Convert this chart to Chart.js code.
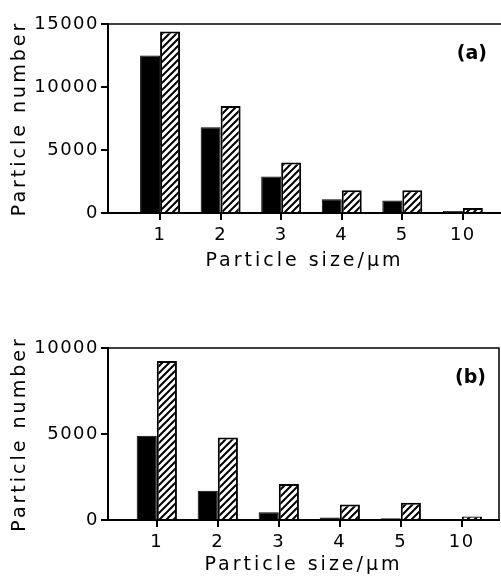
<!DOCTYPE html>
<html>
<head>
<meta charset="utf-8">
<script src="https://cdn.jsdelivr.net/npm/chart.js@4.4.1/dist/chart.umd.min.js"></script>
<style>
  html, body { margin: 0; padding: 0; background: #fff; }
  .panel { position: relative; width: 501px; }
</style>
</head>
<body>
<div class="panel" style="height:280px"><canvas id="chartA"></canvas></div>
<div class="panel" style="height:298px"><canvas id="chartB"></canvas></div>
<script>
// particle size classes (µm)
const sizeLabels = ["1", "2", "3", "4", "5", "10"];

// panel (a)
const solidA = [12500, 6800, 2900, 1100, 1000, 150];
const hatchedA = [14400, 8500, 4000, 1800, 1800, 400];
const yTicksA = [0, 5000, 10000, 15000];

// panel (b)
const solidB = [4900, 1700, 450, 150, 100, 50];
const hatchedB = [9250, 4800, 2100, 900, 1000, 200];
const yTicksB = [0, 5000, 10000];

const FONT = "'DejaVu Sans', sans-serif";

function makeHatch() {
	const size = 7;
	const c = document.createElement("canvas");
	c.width = size;
	c.height = size;
	const g = c.getContext("2d");
	g.fillStyle = "#fff";
	g.fillRect(0, 0, size, size);
	g.strokeStyle = "#000";
	g.lineWidth = 2;
	g.beginPath();
	g.moveTo(0, size);
	g.lineTo(size, 0);
	g.moveTo(-1, 1);
	g.lineTo(1, -1);
	g.moveTo(size - 1, size + 1);
	g.lineTo(size + 1, size - 1);
	g.stroke();
	return g.createPattern(c, "repeat");
}

const hatch = makeHatch();

// wide letter spacing: titles are drawn in the grid layer (z -1),
// tick labels after the datasets (z 1)
const spacingPlugin = {
	id: "spacing",
	beforeDraw(chart) {
		chart.ctx.letterSpacing = "3px";
	},
	beforeDatasetsDraw(chart) {
		chart.ctx.letterSpacing = "1.5px";
	},
	afterDraw(chart) {
		chart.ctx.letterSpacing = "0px";
	},
};

// top border, optional right border and the panel letter
const framePlugin = {
	id: "frame",
	afterDraw(chart, args, opts) {
		const { ctx, chartArea: a } = chart;
		ctx.save();
		ctx.strokeStyle = "#000";
		ctx.lineWidth = 1.5;
		ctx.beginPath();
		ctx.moveTo(a.left, a.top);
		ctx.lineTo(a.right, a.top);
		if (opts.right) ctx.lineTo(a.right, a.bottom);
		ctx.stroke();
		ctx.letterSpacing = "0px";
		ctx.font = "bold 19px " + FONT;
		ctx.fillStyle = "#000";
		ctx.textAlign = "right";
		ctx.textBaseline = "middle";
		ctx.fillText(opts.label, a.right - opts.labelDx, a.top + 30);
		ctx.restore();
	},
};

function drawPanel(id, solid, hatched, yTicks, cfg) {
	const ctx = document.getElementById(id);

	return new Chart(ctx, {
		type: "bar",
		data: {
			datasets: [
				{
					data: solid.map((v, i) => ({ x: i + 1, y: v })),
					backgroundColor: "#000",
					borderColor: "#000",
					borderWidth: 1,
					barPercentage: 1,
					categoryPercentage: 0.66,
				},
				{
					data: hatched.map((v, i) => ({ x: i + 1, y: v })),
					backgroundColor: hatch,
					borderColor: "#000",
					borderWidth: 2,
					barPercentage: 1,
					categoryPercentage: 0.66,
				},
			],
		},
		options: {
			responsive: true,
			maintainAspectRatio: false,
			animation: false,
			devicePixelRatio: 1,
			layout: {
				padding: { top: cfg.top, right: cfg.right, left: 0, bottom: 0 },
			},
			plugins: {
				legend: { display: false },
				tooltip: { enabled: false },
				frame: { label: cfg.label, right: cfg.drawRight, labelDx: cfg.labelDx },
			},
			scales: {
				x: {
					type: "linear",
					min: cfg.xMin,
					max: cfg.xMax,
					offset: false,
					afterBuildTicks: (scale) => {
						scale.ticks = sizeLabels.map((_, i) => ({ value: i + 1 }));
					},
					afterFit: (scale) => {
						scale.height = cfg.xHeight;
					},
					ticks: {
						z: 1,
						color: "#000",
						font: { family: FONT, size: 18 },
						padding: 5,
						callback: (value) => sizeLabels[value - 1],
					},
					grid: {
						z: -1,
						display: true,
						drawOnChartArea: false,
						drawTicks: true,
						tickLength: 7,
						color: "#000",
						lineWidth: 2,
						offset: false,
					},
					border: { display: true, color: "#000", width: 2 },
					title: {
						display: true,
						text: "Particle size/\u00b5m",
						color: "#000",
						font: { family: FONT, size: 19 },
						padding: { top: 0, bottom: cfg.titleBottom },
					},
				},
				y: {
					min: 0,
					max: yTicks[yTicks.length - 1],
					afterBuildTicks: (scale) => {
						scale.ticks = yTicks.map((v) => ({ value: v }));
					},
					afterFit: (scale) => {
						scale.width = 108;
					},
					ticks: {
						z: 1,
						color: "#000",
						font: { family: FONT, size: 18 },
						padding: 2,
						callback: (value) => String(value),
					},
					grid: {
						z: -1,
						display: true,
						drawOnChartArea: false,
						drawTicks: true,
						tickLength: 7,
						color: "#000",
						lineWidth: 2,
					},
					border: { display: true, color: "#000", width: 2 },
					title: {
						display: true,
						text: "Particle number",
						color: "#000",
						font: { family: FONT, size: 19 },
						padding: { top: 9, bottom: 0 },
					},
				},
			},
		},
		plugins: [spacingPlugin, framePlugin],
	});
}

drawPanel("chartA", solidA, hatchedA, yTicksA, {
	top: 24,
	right: 0,
	xMin: 0.14,
	xMax: 6.63,
	xHeight: 67,
	titleBottom: 8,
	label: "(a)",
	labelDx: 14,
	drawRight: false,
});

drawPanel("chartB", solidB, hatchedB, yTicksB, {
	top: 68,
	right: 2,
	xMin: 0.2,
	xMax: 6.61,
	xHeight: 58,
	titleBottom: 2,
	label: "(b)",
	labelDx: 13,
	drawRight: true,
});
</script>
</body>
</html>
